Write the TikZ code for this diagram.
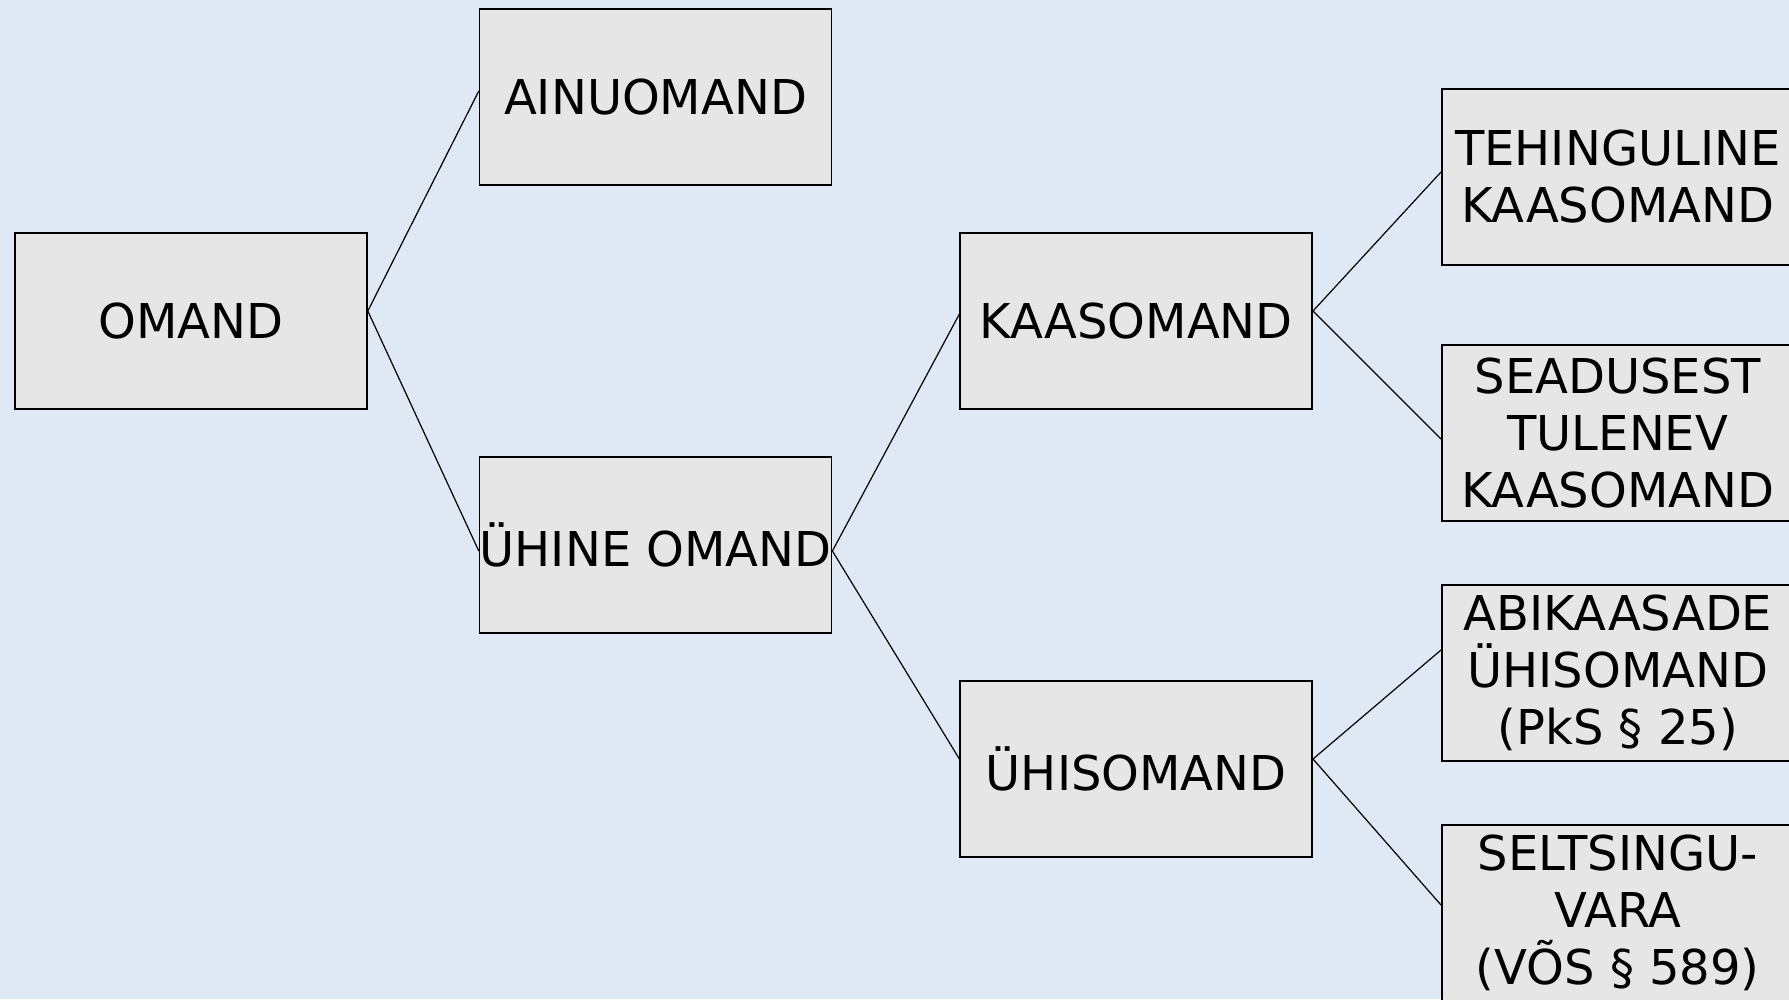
\documentclass[tikz,border=0pt]{standalone}
\usepackage{fontspec}
\setmainfont{DejaVu Sans}
\usetikzlibrary{positioning}
\definecolor{bgblue}{RGB}{222,233,245}
\definecolor{boxgray}{RGB}{230,230,230}
\tikzset{
  box/.style={draw, fill=boxgray, line width=1.6pt, rectangle, inner sep=0pt,
    minimum width=352pt, minimum height=176pt, align=center,
    font=\fontsize{48}{57}\selectfont},
  link/.style={line width=1.2pt},
}

\begin{document}
\begin{tikzpicture}[x=1pt, y=1pt, node distance=111pt]
    \fill[bgblue] (0,0) rectangle (1789,-999);
    \useasboundingbox (0,0) rectangle (1789,-999);
    \node[box] (omand) at (191,-321) {OMAND};
    \node[box] (ainu)  [right=of omand, yshift=224pt] {AINUOMAND};
    \node[box] (yhine) [right=of omand, yshift=-224pt] {ÜHINE OMAND};
    \node[box] (kaas)  [right=127pt of yhine, yshift=224pt] {KAASOMAND};
    \node[box] (yhis)  [right=127pt of yhine, yshift=-224pt] {ÜHISOMAND};
    \node[box] (teh)   [right=128pt of kaas, yshift=144pt] {TEHINGULINE\\KAASOMAND};
    \node[box] (sead)  [right=128pt of kaas, yshift=-112pt] {SEADUSEST\\TULENEV\\KAASOMAND};
    \node[box] (abik)  [right=128pt of yhis, yshift=96pt] {ABIKAASADE\\ÜHISOMAND\\(PkS § 25)};
    \node[box] (selts) [right=128pt of yhis, yshift=-144pt] {SELTSINGU-\\VARA\\(VÕS § 589)};
    % lines meet the boxes a little off their middles
    \path[link]
      ([yshift=10pt]omand.east) edge ([yshift=6pt]ainu.west)
      ([yshift=10pt]omand.east) edge ([yshift=-6pt]yhine.west)
      ([yshift=-6pt]yhine.east) edge ([yshift=7pt]kaas.west)
      ([yshift=-6pt]yhine.east) edge ([yshift=10pt]yhis.west)
      ([yshift=10pt]kaas.east)  edge ([yshift=5pt]teh.west)
      ([yshift=10pt]kaas.east)  edge ([yshift=-6pt]sead.west)
      ([yshift=10pt]yhis.east)  edge ([yshift=23pt]abik.west)
      ([yshift=10pt]yhis.east)  edge ([yshift=8pt]selts.west);
  \end{tikzpicture}
\end{document}
